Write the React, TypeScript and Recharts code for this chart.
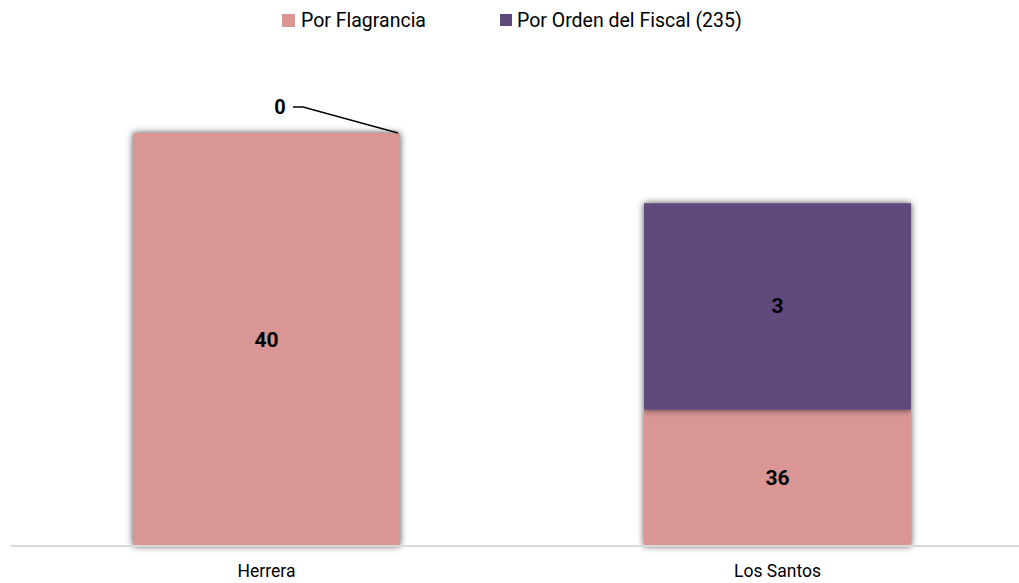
import React from 'react';
import { BarChart, Bar, XAxis, YAxis, Legend, LabelList } from 'recharts';

// Categories
const categories = ['Herrera', 'Los Santos'];
// Data labels as printed on the chart
const flagranciaLabels = [40, 36];
const fiscalLabels = [0, 3];
// Bar heights as drawn in the picture (chart scale)
const flagranciaHeights = [40, 13.2];
const fiscalHeights = [0, 20.0];

const seriesNames = ['Por Flagrancia', 'Por Orden del Fiscal (235)'];
const seriesColors = ['#D99694', '#604A7B'];

const data = categories.map((c, i) => ({
  name: c,
  flag: flagranciaHeights[i],
  fiscal: fiscalHeights[i],
}));

const FONT = 'Roboto, "Open Sans", sans-serif';

const ShadowRect = (props: any) => {
  const { x, y, width, height, fill } = props;
  if (!height || height <= 0) return <g />;
  return <rect x={x} y={y} width={width} height={height} fill={fill} filter="url(#barShadow)" />;
};

const makeLabel = (labels: number[]) => (props: any) => {
  const { x, y, width, height, index } = props;
  const v = labels[index];
  if (v === 0) {
    const rx = x + width;
    return (
      <g>
        <polyline
          points={`${rx - 107},${y - 26} ${rx - 97},${y - 26} ${rx - 2},${y}`}
          fill="none"
          stroke="#000"
          strokeWidth={1.3}
        />
        <text
          x={rx - 120}
          y={y - 26}
          textAnchor="middle"
          dominantBaseline="central"
          fontFamily={FONT}
          fontWeight={700}
          fontSize={20}
          fill="#000"
        >
          {v}
        </text>
      </g>
    );
  }
  return (
    <text
      x={x + width / 2}
      y={y + height / 2}
      textAnchor="middle"
      dominantBaseline="central"
      fontFamily={FONT}
      fontWeight={700}
      fontSize={21}
      fill="#000"
    >
      {v}
    </text>
  );
};

const LegendContent = () => (
  <div style={{ position: 'relative', height: 0 }}>
    <div
      style={{
        position: 'absolute',
        left: 282,
        top: 8,
        height: 24,
        display: 'flex',
        alignItems: 'center',
        fontFamily: FONT,
        fontSize: 19.5,
        color: '#000',
        whiteSpace: 'nowrap',
      }}
    >
      <span style={{ display: 'inline-block', width: 13, height: 13, background: seriesColors[0], marginRight: 6 }} />
      <span>{seriesNames[0]}</span>
      <span style={{ display: 'inline-block', width: 12, height: 12, background: seriesColors[1], marginLeft: 74, marginRight: 5 }} />
      <span>{seriesNames[1]}</span>
    </div>
  </div>
);

export default function App() {
  return (
    <div style={{ position: 'absolute', left: 0, top: 0, width: 1019, height: 583, overflow: 'hidden', background: '#fff' }}>
      <BarChart
        width={1040}
        height={583}
        data={data}
        margin={{ top: 133, right: 7, left: 11, bottom: 0 }}
        barCategoryGap={0}
      >
        <defs>
          <filter id="barShadow" x="-10%" y="-10%" width="120%" height="120%">
            <feDropShadow dx="0" dy="0" stdDeviation="3.5" floodColor="#000" floodOpacity="0.7" />
          </filter>
        </defs>
        <Legend verticalAlign="top" wrapperStyle={{ top: 0, left: 0, width: 1019 }} content={LegendContent} />
        <XAxis
          dataKey="name"
          tickLine={false}
          tickSize={0}
          tickMargin={19}
          height={37}
          axisLine={{ stroke: '#D9D9D9', strokeWidth: 2 }}
          tick={{ fontFamily: FONT, fontSize: 17.5, fill: '#000' }}
        />
        <YAxis hide domain={[0, 40]} />
        <Bar dataKey="flag" stackId="a" fill={seriesColors[0]} barSize={267} shape={ShadowRect} isAnimationActive={false}>
          <LabelList dataKey="flag" content={makeLabel(flagranciaLabels)} />
        </Bar>
        <Bar dataKey="fiscal" stackId="a" fill={seriesColors[1]} barSize={267} shape={ShadowRect} isAnimationActive={false}>
          <LabelList dataKey="fiscal" content={makeLabel(fiscalLabels)} />
        </Bar>
      </BarChart>
    </div>
  );
}
